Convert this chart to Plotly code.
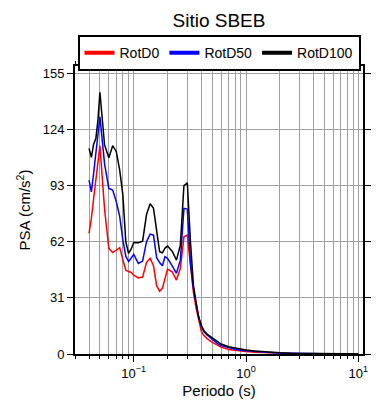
import plotly.graph_objects as go
import math

periods = [0.04, 0.042, 0.044, 0.046, 0.048, 0.05, 0.055, 0.06, 0.065, 0.07,
           0.075, 0.08, 0.085, 0.09, 0.095, 0.1, 0.11, 0.12, 0.13, 0.14,
           0.15, 0.16, 0.17, 0.18, 0.19, 0.2, 0.22, 0.24, 0.26, 0.28,
           0.3, 0.32, 0.34, 0.36, 0.38, 0.4, 0.42, 0.45, 0.5, 0.55,
           0.6, 0.7, 0.8, 0.9, 1.0, 1.2, 1.5, 2.0, 2.5, 3.0,
           4.0, 5.0, 6.0, 7.5, 10.0]

rotd0 = [66.6, 75, 86, 95, 105, 115, 80, 58.3, 56, 57.3,
         58.7, 52, 46.3, 45.5, 45, 43.5, 42, 42.5, 50.6, 52.8,
         48.7, 37.7, 34.7, 36.2, 42, 46.9, 45.4, 40.8, 47.2, 64.7,
         65.6, 48, 34, 25, 18, 12.5, 10.4, 8.5, 6.4, 4.8,
         3.8, 2.5, 2.0, 1.6, 1.4, 1.0, 0.7, 0.4, 0.25, 0.18,
         0.12, 0.09, 0.07, 0.05, 0.04]

rotd50 = [96, 89.5, 100, 110, 121, 131, 105, 91.4, 90.5, 84,
          76, 63, 54, 51, 53, 55, 50, 51.3, 62, 66.2,
          65.6, 53.2, 50.5, 48.7, 53.7, 52.8, 48.7, 44.5, 51.8, 80.4,
          80, 50, 36, 27, 20, 15, 12.5, 10.5, 8, 6,
          4.6, 3.3, 2.6, 2.1, 1.8, 1.3, 0.9, 0.5, 0.32, 0.24,
          0.16, 0.12, 0.09, 0.07, 0.05]

rotd100 = [113.5, 108.6, 116, 119, 129, 144.5, 115.4, 108.4, 115, 111.7,
           101.5, 88, 62, 55.5, 58, 61.6, 61.4, 62.3, 77, 83,
           80.4, 67.5, 56.5, 55.9, 58.5, 59.6, 56.8, 51.8, 60.1, 93,
           94.5, 62, 38, 28, 20, 16, 13, 11, 9, 7,
           5.5, 4.0, 3.2, 2.6, 2.2, 1.6, 1.1, 0.65, 0.4, 0.3,
           0.2, 0.15, 0.12, 0.09, 0.06]

series_names = ["RotD0", "RotD50", "RotD100"]
series_colors = ["#ff0000", "#0000ff", "#000000"]

x_major_ticks = [0.1, 1, 10]
x_major_labels = ["10<sup>−1</sup>", "10<sup>0</sup>", "10<sup>1</sup>"]
x_minor_ticks = [0.03, 0.04, 0.05, 0.06, 0.07, 0.08, 0.09,
                 0.2, 0.3, 0.4, 0.5, 0.6, 0.7, 0.8, 0.9,
                 2, 3, 4, 5, 6, 7, 8, 9]
y_ticks = [0, 31, 62, 93, 124, 155]

FONT = "Liberation Sans, Arial, Helvetica, sans-serif"
GRID = "#a0a0a0"

fig = go.Figure()
for name, vals, col in zip(series_names, [rotd0, rotd50, rotd100], series_colors):
    fig.add_trace(go.Scatter(x=periods, y=vals, mode="lines", name=name,
                             line=dict(color=col, width=1.5), showlegend=False))
for name, col in zip(series_names, series_colors):
    fig.add_trace(go.Scatter(x=[None], y=[None], mode="lines", name=name,
                             line=dict(color=col, width=4), showlegend=True))

fig.update_layout(
    width=390, height=400,
    margin=dict(l=67, r=35, t=58, b=54),
    paper_bgcolor="white", plot_bgcolor="white",
    font=dict(family=FONT, color="black", size=13),
    title=dict(text="Sitio SBEB", x=0.5, xref="paper", xanchor="center",
               y=0.968, yref="container", yanchor="middle",
               font=dict(size=19, family=FONT, color="black")),
    legend=dict(orientation="h", x=0.5, xanchor="center", y=1.107, yanchor="top",
                bordercolor="black", borderwidth=2, bgcolor="white",
                font=dict(size=14, family=FONT),
                itemwidth=30, tracegroupgap=0),
    xaxis=dict(type="log", range=[math.log10(0.03), math.log10(11)],
               tickmode="array", tickvals=x_major_ticks, ticktext=x_major_labels,
               ticks="outside", ticklen=6, tickwidth=1, tickcolor="black",
               showline=True, linewidth=2, linecolor="black", mirror="ticks",
               showgrid=True, gridcolor=GRID, gridwidth=1, zeroline=False,
               tickfont=dict(size=13),
               minor=dict(tickmode="array", tickvals=x_minor_ticks, ticks="outside",
                          ticklen=3, tickwidth=1, tickcolor="black",
                          showgrid=True, gridcolor=GRID, gridwidth=1),
               title=dict(text="Periodo (s)", font=dict(size=15), standoff=6)),
    yaxis=dict(range=[0, 159], tickmode="array", tickvals=y_ticks,
               ticks="outside", ticklen=6, tickwidth=1, tickcolor="black",
               showline=True, linewidth=2, linecolor="black", mirror="ticks",
               showgrid=True, gridcolor=GRID, gridwidth=1, zeroline=False,
               tickfont=dict(size=13),
               title=dict(text="PSA (cm/s<sup>2</sup>)", font=dict(size=15), standoff=8)),
)

fig.write_html("out.html")
